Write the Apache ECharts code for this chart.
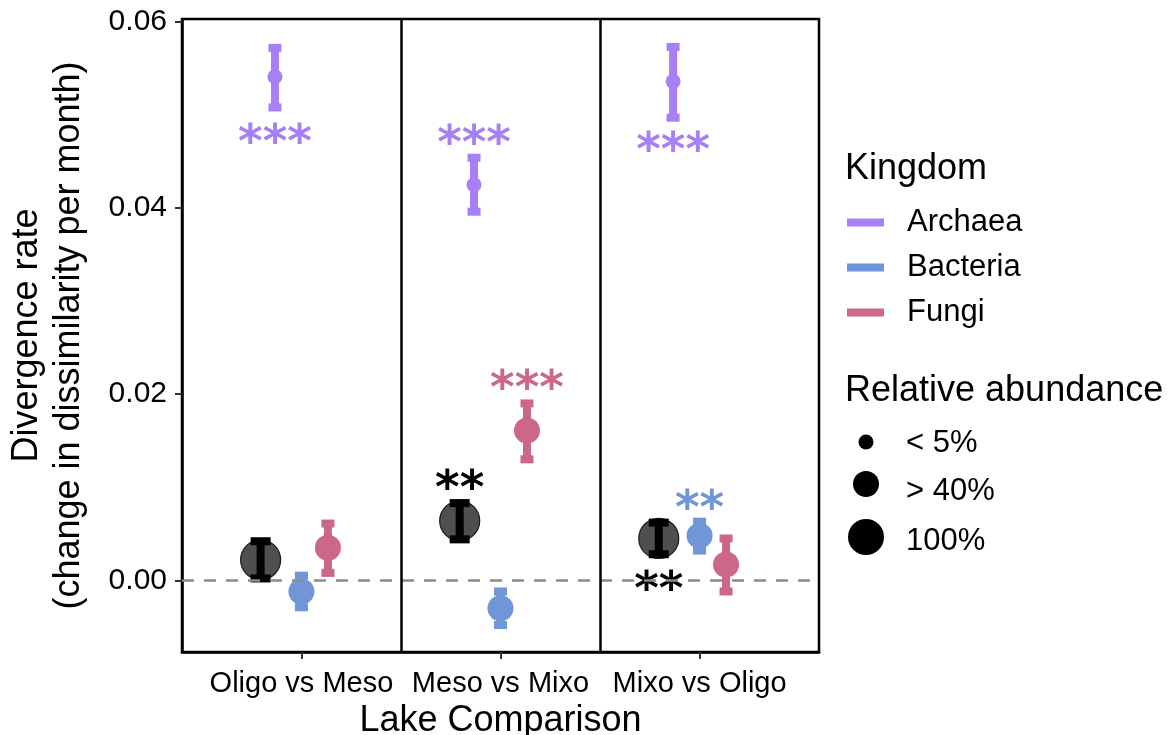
<!DOCTYPE html>
<html>
<head>
<meta charset="utf-8">
<script src="https://cdn.jsdelivr.net/npm/echarts@6/dist/echarts.min.js"></script>
<style>
  html, body { margin: 0; padding: 0; background: #fff; }
  #chart { width: 1173px; height: 735px; }
</style>
</head>
<body>
<div id="chart"></div>
<script>
// lake comparisons (x) and kingdoms
var categories = ['Oligo vs Meso', 'Meso vs Mixo', 'Mixo vs Oligo'];
var kingdoms = ['Archaea', 'Bacteria', 'Fungi'];

// divergence rate: mean and error bar ends, per comparison
var archaeaMean = [0.0541, 0.0425, 0.0536];
var archaeaLow  = [0.0508, 0.0396, 0.0497];
var archaeaHigh = [0.0572, 0.0454, 0.0573];

var bacteriaMean = [-0.0012, -0.0030, 0.0048];
var bacteriaLow  = [-0.0029, -0.0048, 0.0032];
var bacteriaHigh = [0.0005, -0.0012, 0.0063];

var fungiMean = [0.0035, 0.0161, 0.0017];
var fungiLow  = [0.0008, 0.0130, -0.0012];
var fungiHigh = [0.0061, 0.0190, 0.0045];

var allMean = [0.0022, 0.0064, 0.0045];
var allLow  = [0.0002, 0.0044, 0.0028];
var allHigh = [0.0042, 0.0083, 0.0062];

// significance stars and where they sit
var archaeaSig  = ['***', '***', '***'];
var archaeaSigY = [0.0480, 0.0479, 0.0471];
var bacteriaSig  = ['', '', '**'];
var bacteriaSigY = [null, null, 0.0086];
var fungiSig  = ['', '***', ''];
var fungiSigY = [null, 0.0215, null];
var allSig  = ['', '**', '**'];
var allSigY = [null, 0.0108, 0.0000];

var yTicks = [0, 0.02, 0.04, 0.06];
var sizeLabels = ['< 5%', '> 40%', '100%'];

var FONT = '"Liberation Sans", Arial, Helvetica, sans-serif';
var colors = { Archaea: '#a77ff7', Bacteria: '#7095d8', Fungi: '#cd6787' };

function toData(mean, low, high) {
  return mean.map(function (m, i) { return [i + 1, m, low[i], high[i]]; });
}

function makeRender(opt) {
  return function (params, api) {
    var i = params.dataIndex;
    var x = api.value(0) + opt.offset;
    var c = api.coord([x, api.value(1)]);
    var lo = api.coord([x, api.value(2)]);
    var hi = api.coord([x, api.value(3)]);
    var col = opt.color;
    var barCol = opt.barColor || col;
    var kids = [];
    kids.push({
      type: 'circle',
      shape: { cx: c[0], cy: c[1], r: opt.r },
      style: { fill: opt.fill || col, stroke: opt.stroke || null, lineWidth: opt.stroke ? 1.2 : 0 }
    });
    var sw = 8, ch = 8;
    kids.push({ type: 'rect', shape: { x: c[0] - sw / 2, y: hi[1], width: sw, height: lo[1] - hi[1] }, style: { fill: barCol } });
    kids.push({ type: 'rect', shape: { x: c[0] - opt.capW / 2, y: hi[1] - ch / 2, width: opt.capW, height: ch }, style: { fill: barCol } });
    kids.push({ type: 'rect', shape: { x: c[0] - opt.capW / 2, y: lo[1] - ch / 2, width: opt.capW, height: ch }, style: { fill: barCol } });
    var sig = opt.sig[i];
    if (sig) {
      var sp = api.coord([x, opt.sigY[i]]);
      kids.push({
        type: 'text',
        x: sp[0], y: sp[1] + 11,
        style: {
          text: sig, fill: opt.sigColor || col,
          font: 'bold 47px "DejaVu Sans", sans-serif',
          align: 'center', verticalAlign: 'middle'
        }
      });
    }
    return { type: 'group', children: kids };
  };
}

var chart = echarts.init(document.getElementById('chart'));

var option = {
  backgroundColor: '#fff',
  animation: false,
  title: [
    { text: 'Kingdom', left: 845, top: 151, textStyle: { fontFamily: FONT, fontSize: 36, fontWeight: 'normal', color: '#000' }, padding: 0 },
    { text: 'Relative abundance', left: 845, top: 373, textStyle: { fontFamily: FONT, fontSize: 36, fontWeight: 'normal', color: '#000' }, padding: 0 }
  ],
  legend: {
    data: kingdoms,
    orient: 'vertical',
    left: 847,
    top: 207,
    itemWidth: 37,
    itemHeight: 8,
    itemGap: 14,
    icon: 'rect',
    padding: 0,
    textStyle: { fontFamily: FONT, fontSize: 31, lineHeight: 31, color: '#000', padding: [0, 0, 0, 18] }
  },
  grid: {
    left: 182, right: 354, top: 19, bottom: 83,
    outerBoundsMode: 'none',
    containLabel: false,
    show: true, borderColor: '#000', borderWidth: 2.5, backgroundColor: '#fff'
  },
  xAxis: {
    type: 'value',
    min: 0.4, max: 3.6,
    name: 'Lake Comparison',
    nameLocation: 'middle',
    nameGap: 47,
    nameTextStyle: { fontFamily: FONT, fontSize: 36, color: '#000' },
    axisLine: { show: true, onZero: false, lineStyle: { color: '#000', width: 2.5 } },
    axisTick: { show: true, customValues: [1, 2, 3], length: 7, lineStyle: { color: '#333', width: 2 } },
    axisLabel: {
      customValues: [1, 2, 3], margin: 17,
      fontFamily: FONT, fontSize: 29, color: '#000',
      formatter: function (v) { return categories[Math.round(v) - 1] || ''; }
    },
    splitLine: { show: false }
  },
  yAxis: {
    type: 'value',
    min: -0.0077, max: 0.0603,
    name: 'Divergence rate\n(change in dissimilarity per month)',
    nameLocation: 'middle',
    nameRotate: 90,
    nameGap: 92,
    nameTextStyle: { fontFamily: FONT, fontSize: 36, color: '#000', lineHeight: 42, align: 'center' },
    axisLine: { show: true, lineStyle: { color: '#000', width: 2.5 } },
    axisTick: { show: true, customValues: yTicks, length: 7, lineStyle: { color: '#333', width: 2 } },
    axisLabel: {
      customValues: yTicks, margin: 15,
      fontFamily: FONT, fontSize: 30, color: '#000',
      formatter: function (v) { return v.toFixed(2); }
    },
    splitLine: { show: false }
  },
  series: [
    {
      name: 'All', type: 'custom', z: 3,
      data: toData(allMean, allLow, allHigh),
      itemStyle: { color: '#000' },
      renderItem: makeRender({ offset: -0.205, r: 20, capW: 20, color: '#000', fill: 'rgba(60,60,60,0.9)', stroke: '#1a1a1a', barColor: '#000', sig: allSig, sigY: allSigY }),
      markLine: {
        silent: true, symbol: 'none', label: { show: false },
        data: [
          { yAxis: 0, lineStyle: { color: '#8a8a8a', width: 2.5, type: [12, 10] } },
          { xAxis: 1.5, lineStyle: { color: '#000', width: 2.5, type: 'solid' } },
          { xAxis: 2.5, lineStyle: { color: '#000', width: 2.5, type: 'solid' } }
        ]
      }
    },
    {
      name: 'Archaea', type: 'custom', z: 4,
      data: toData(archaeaMean, archaeaLow, archaeaHigh),
      itemStyle: { color: colors.Archaea },
      renderItem: makeRender({ offset: -0.133, r: 7.5, capW: 13, color: colors.Archaea, sig: archaeaSig, sigY: archaeaSigY })
    },
    {
      name: 'Bacteria', type: 'custom', z: 4,
      data: toData(bacteriaMean, bacteriaLow, bacteriaHigh),
      itemStyle: { color: colors.Bacteria },
      renderItem: makeRender({ offset: 0, r: 13, capW: 13, color: colors.Bacteria, sig: bacteriaSig, sigY: bacteriaSigY })
    },
    {
      name: 'Fungi', type: 'custom', z: 4,
      data: toData(fungiMean, fungiLow, fungiHigh),
      itemStyle: { color: colors.Fungi },
      renderItem: makeRender({ offset: 0.133, r: 13, capW: 13, color: colors.Fungi, sig: fungiSig, sigY: fungiSigY })
    }
  ],
  graphic: [
    { type: 'circle', shape: { cx: 866, cy: 442, r: 7.5 }, style: { fill: '#000' } },
    { type: 'text', x: 906, y: 443, style: { text: sizeLabels[0], font: '31px ' + FONT, fill: '#000', verticalAlign: 'middle' } },
    { type: 'circle', shape: { cx: 866, cy: 484, r: 13 }, style: { fill: '#000' } },
    { type: 'text', x: 906, y: 491, style: { text: sizeLabels[1], font: '31px ' + FONT, fill: '#000', verticalAlign: 'middle' } },
    { type: 'circle', shape: { cx: 866, cy: 537, r: 18 }, style: { fill: '#000' } },
    { type: 'text', x: 906, y: 541, style: { text: sizeLabels[2], font: '31px ' + FONT, fill: '#000', verticalAlign: 'middle' } }
  ]
};

chart.setOption(option);
window.addEventListener('resize', function () { chart.resize(); });
</script>
</body>
</html>
